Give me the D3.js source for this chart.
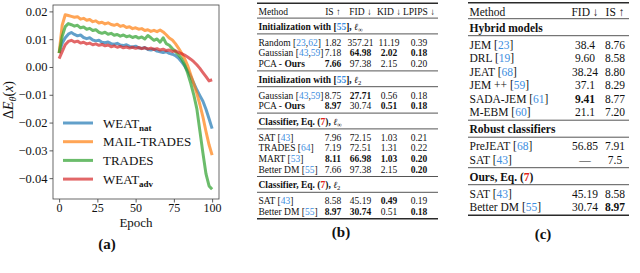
<!DOCTYPE html>
<html>
<head>
<meta charset="utf-8">
<script src="https://cdn.jsdelivr.net/npm/d3@7"></script>
<style>
  body { margin: 0; background: #fff; }
  svg { display: block; }
</style>
</head>
<body>
<div id="fig"></div>
<script>
// ---- panel (a): energy difference per epoch (read every 2nd epoch) ----
const epochs = d3.range(0, 101, 2);
const weatNat = [0.0050, 0.0085, 0.0105, 0.0118, 0.0124, 0.0117, 0.0112, 0.0115, 0.0106, 0.0102,
  0.0105, 0.0097, 0.0094, 0.0096, 0.0089, 0.0087, 0.0090, 0.0084, 0.0082, 0.0085,
  0.0079, 0.0077, 0.0080, 0.0074, 0.0072, 0.0075, 0.0069, 0.0067, 0.0070, 0.0063,
  0.0061, 0.0064, 0.0057, 0.0055, 0.0052, 0.0055, 0.0049, 0.0046, 0.0041, 0.0032,
  0.0019, 0.0004, -0.0013, -0.0034, -0.0058, -0.0082, -0.0103, -0.0123, -0.0152, -0.0186,
  -0.0222];
const mailTrades = [0.0050, 0.0150, 0.0188, 0.0185, 0.0182, 0.0179, 0.0181, 0.0172, 0.0175, 0.0168,
  0.0171, 0.0163, 0.0166, 0.0158, 0.0161, 0.0155, 0.0159, 0.0153, 0.0150, 0.0154,
  0.0146, 0.0149, 0.0142, 0.0145, 0.0138, 0.0141, 0.0136, 0.0138, 0.0131, 0.0134,
  0.0128, 0.0132, 0.0127, 0.0133, 0.0126, 0.0116, 0.0104, 0.0097, 0.0084, 0.0068,
  0.0050, 0.0030, 0.0005, -0.0028, -0.0060, -0.0095, -0.0135, -0.0180, -0.0232, -0.0280,
  -0.0317];
const trades = [0.0050, 0.0110, 0.0145, 0.0156, 0.0152, 0.0147, 0.0150, 0.0141, 0.0144, 0.0136,
  0.0139, 0.0131, 0.0134, 0.0125, 0.0121, 0.0125, 0.0118, 0.0121, 0.0114, 0.0117,
  0.0111, 0.0115, 0.0109, 0.0112, 0.0106, 0.0110, 0.0104, 0.0108, 0.0101, 0.0113,
  0.0105, 0.0096, 0.0101, 0.0089, 0.0105, 0.0084, 0.0078, 0.0066, 0.0056, 0.0044,
  0.0030, 0.0008, -0.0022, -0.0058, -0.0100, -0.0150, -0.0230, -0.0310, -0.0385, -0.0428,
  -0.0440];
const weatAdv = [0.0030, 0.0055, 0.0080, 0.0092, 0.0096, 0.0090, 0.0093, 0.0086, 0.0089, 0.0083,
  0.0086, 0.0080, 0.0083, 0.0078, 0.0081, 0.0076, 0.0079, 0.0073, 0.0076, 0.0071,
  0.0074, 0.0069, 0.0072, 0.0068, 0.0071, 0.0067, 0.0070, 0.0066, 0.0069, 0.0065,
  0.0068, 0.0063, 0.0066, 0.0061, 0.0064, 0.0059, 0.0061, 0.0056, 0.0058, 0.0052,
  0.0048, 0.0043, 0.0036, 0.0028, 0.0019, 0.0008, -0.0005, -0.0020, -0.0035, -0.0050,
  -0.0046];
const seriesNames = [["WEAT", "nat"], ["MAIL-TRADES", ""], ["TRADES", ""], ["WEAT", "adv"]];
const seriesColors = ["#1f77b4", "#ff7f0e", "#2ca02c", "#d62728"];
const xTicks = [0, 25, 50, 75, 100];
const yTicks = [-0.04, -0.03, -0.02, -0.01, 0, 0.01, 0.02];

// ---- panel (b) ----
const bHeader = ["Method", "IS ↑", "FID ↓", "KID ↓", "LPIPS ↓"];
const bGroups = ["Initialization with [55], ℓ∞", "Initialization with [55], ℓ2",
  "Classifier, Eq. (7), ℓ∞", "Classifier, Eq. (7), ℓ2"];
const bGroupSize = [3, 2, 4, 2];
const bMethods = ["Random [23,62]", "Gaussian [43,59]", "PCA - Ours", "Gaussian [43,59]", "PCA - Ours",
  "SAT [43]", "TRADES [64]", "MART [53]", "Better DM [55]", "SAT [43]", "Better DM [55]"];
const bIS = ["1.82", "7.18", "7.66", "8.75", "8.97", "7.96", "7.19", "8.11", "7.66", "8.58", "8.97"];
const bFID = ["357.21", "64.98", "97.38", "27.71", "30.74", "72.15", "72.51", "66.98", "97.38", "45.19", "30.74"];
const bKID = ["11.19", "2.02", "2.15", "0.56", "0.51", "1.03", "1.31", "1.03", "2.15", "0.49", "0.51"];
const bLPIPS = ["0.39", "0.18", "0.20", "0.18", "0.18", "0.21", "0.22", "0.20", "0.20", "0.19", "0.18"];
// column indexes printed in bold (best results)
const bBest = [[], [1, 2, 3], [0], [1], [0, 2, 3], [], [], [0, 1, 2, 3], [3], [2], [0, 1, 3]];

// ---- panel (c) ----
const cHeader = ["Method", "FID ↓", "IS ↑"];
const cGroups = ["Hybrid models", "Robust classifiers", "Ours, Eq. (7)"];
const cGroupSize = [6, 2, 2];
const cMethods = ["JEM [23]", "DRL [19]", "JEAT [68]", "JEM ++ [59]", "SADA-JEM [61]", "M-EBM [60]",
  "PreJEAT [68]", "SAT [43]", "SAT [43]", "Better DM [55]"];
const cFID = ["38.4", "9.60", "38.24", "37.1", "9.41", "21.1", "56.85", "—", "45.19", "30.74"];
const cIS = ["8.76", "8.58", "8.80", "8.29", "8.77", "7.20", "7.91", "7.5", "8.58", "8.97"];
const cBest = [[], [], [], [], [0], [], [], [], [], [1]];

const serif = "'Liberation Serif', 'DejaVu Serif', serif";
const citeBlue = "#3d8ee0", refRed = "#e2231a", ink = "#111";

const svg = d3.select("#fig").append("svg")
    .attr("width", 640)
    .attr("height", 273)
    .attr("font-family", serif);

// ================= (a) line chart =================
const plot = {left: 53, right: 219, top: 5, bottom: 199};
const x = d3.scaleLinear().domain([-4, 104.5]).range([plot.left, plot.right]);
const y = d3.scaleLinear().domain([-0.0475, 0.0223]).range([plot.bottom, plot.top]);

const gA = svg.append("g");

gA.append("g")
    .attr("transform", `translate(0,${plot.bottom})`)
    .call(d3.axisBottom(x).tickValues(xTicks).tickSize(3.5).tickPadding(1))
    .attr("font-family", serif).attr("font-size", 12)
    .call(g => g.select(".domain").remove())
    .call(g => g.selectAll("line").attr("stroke", "#333").attr("stroke-width", 0.8))
    .call(g => g.selectAll("text").attr("fill", ink));

gA.append("g")
    .attr("transform", `translate(${plot.left},0)`)
    .call(d3.axisLeft(y).tickValues(yTicks).tickFormat(d3.format(".2f")).tickSize(3.5).tickPadding(2))
    .attr("font-family", serif).attr("font-size", 12.5)
    .call(g => g.select(".domain").remove())
    .call(g => g.selectAll("line").attr("stroke", "#333").attr("stroke-width", 0.8))
    .call(g => g.selectAll("text").attr("fill", ink));

const allSeries = [weatNat, mailTrades, trades, weatAdv];
const line = d3.line()
    .x((d, i) => x(epochs[i]))
    .y(d => y(d));

gA.selectAll(".series")
    .data(allSeries)
    .join("path")
    .attr("class", "series")
    .attr("fill", "none")
    .attr("stroke", (d, i) => seriesColors[i])
    .attr("stroke-opacity", 0.7)
    .attr("stroke-width", 3)
    .attr("stroke-linejoin", "round")
    .attr("d", line);

// frame
gA.append("rect")
    .attr("x", plot.left).attr("y", plot.top)
    .attr("width", plot.right - plot.left).attr("height", plot.bottom - plot.top)
    .attr("fill", "none").attr("stroke", "#444").attr("stroke-width", 0.8);

// legend
const legend = gA.append("g").attr("transform", "translate(63,123)");
seriesNames.forEach((nm, i) => {
    const row = legend.append("g").attr("transform", `translate(0,${i * 18.7})`);
    row.append("line")
        .attr("x1", 0).attr("x2", 30)
        .attr("stroke", seriesColors[i]).attr("stroke-opacity", 0.7).attr("stroke-width", 3);
    const t = row.append("text").attr("x", 40).attr("dy", "0.35em")
        .attr("font-size", 13).attr("fill", ink).text(nm[0]);
    if (nm[1]) {
        t.append("tspan").attr("font-size", 9).attr("font-weight", "bold").attr("dy", 3).text(nm[1]);
    }
});

// axis titles
const yl = gA.append("text")
    .attr("transform", "translate(13,100) rotate(-90)")
    .attr("text-anchor", "middle")
    .attr("font-size", 14).attr("fill", ink);
yl.append("tspan").text("Δ");
yl.append("tspan").attr("font-style", "italic").text("E");
yl.append("tspan").attr("font-style", "italic").attr("font-size", 10).attr("dy", 3).text("θ");
yl.append("tspan").attr("dy", -3).text("(");
yl.append("tspan").attr("font-style", "italic").text("x");
yl.append("tspan").text(")");

gA.append("text")
    .attr("x", (plot.left + plot.right) / 2).attr("y", 226.5)
    .attr("text-anchor", "middle").attr("font-size", 13).attr("fill", ink)
    .text("Epoch");

// ================= tables =================
// write a table cell, colouring citation numbers and equation refs like the LaTeX source
function richText(t, str) {
    const parts = str.split(/(\[[\d,]+\]|\(7\)|Ours|ℓ.)/);
    parts.forEach(p => {
        if (!p) return;
        if (p[0] === "[") {
            t.append("tspan").text("[");
            p.slice(1, -1).split(",").forEach((n, k) => {
                if (k > 0) t.append("tspan").text(",");
                t.append("tspan").attr("fill", citeBlue).text(n);
            });
            t.append("tspan").text("]");
        } else if (p === "(7)") {
            t.append("tspan").text("(");
            t.append("tspan").attr("fill", refRed).text("7");
            t.append("tspan").text(")");
        } else if (p === "Ours") {
            t.append("tspan").attr("font-weight", "bold").text(p);
        } else if (p[0] === "ℓ") {
            t.append("tspan").attr("font-style", "italic").attr("font-weight", "normal").text("ℓ");
            t.append("tspan").attr("font-size", "0.7em").attr("font-weight", "normal").attr("dy", "0.3em").text(p[1]);
        } else {
            t.append("tspan").text(p);
        }
    });
}

function drawTable(o) {
    const g = svg.append("g").attr("font-size", o.font).attr("fill", ink);
    const rule = (yy, w) => g.append("line")
        .attr("x1", o.left).attr("x2", o.right).attr("y1", yy).attr("y2", yy)
        .attr("stroke", "#2a2a2a").attr("stroke-width", w);
    const cells = (yy, vals, best) => {
        vals.forEach((v, k) => {
            g.append("text")
                .attr("x", o.cols[k]).attr("y", yy).attr("dy", "0.35em")
                .attr("text-anchor", "middle")
                .attr("font-weight", best && best.includes(k) ? "bold" : "normal")
                .text(v);
        });
    };
    let yy = o.top;
    rule(yy, 1.5);
    yy += o.below;
    g.append("text").attr("x", o.left + 1.5).attr("y", yy).attr("dy", "0.35em").text(o.header[0]);
    cells(yy, o.header.slice(1), null);
    yy += o.headAbove;
    rule(yy, 0.8);
    let r = 0;
    o.groups.forEach((title, gi) => {
        yy += o.below;
        const t = g.append("text").attr("x", o.left + 1.5).attr("y", yy).attr("dy", "0.35em")
            .attr("font-weight", "bold");
        richText(t, title);
        yy += o.above;
        rule(yy, 0.8);
        for (let k = 0; k < o.sizes[gi]; k++, r++) {
            yy += k === 0 ? o.below : o.rowH;
            const m = g.append("text").attr("x", o.left + 1.5).attr("y", yy).attr("dy", "0.35em");
            richText(m, o.methods[r]);
            cells(yy, o.columns.map(c => c[r]), o.best[r]);
        }
        yy += o.above;
        rule(yy, gi === o.groups.length - 1 ? 1.5 : 0.8);
    });
}

drawTable({
    left: 257, right: 438, cols: [333, 360.5, 389, 419], font: 9.5,
    top: 3.3, below: 8.6, above: 7.2, headAbove: 6.2, rowH: 10.6,
    header: bHeader, groups: bGroups, sizes: bGroupSize, methods: bMethods,
    columns: [bIS, bFID, bKID, bLPIPS], best: bBest
});

drawTable({
    left: 468, right: 629, cols: [585, 615], font: 11.5,
    top: 2.7, below: 9.2, above: 7.8, headAbove: 6.8, rowH: 13.5,
    header: cHeader, groups: cGroups, sizes: cGroupSize, methods: cMethods,
    columns: [cFID, cIS], best: cBest
});

// sub-figure captions
[["(a)", 107, 244], ["(b)", 341, 232], ["(c)", 543, 233.5]].forEach(c => {
    svg.append("text")
        .attr("x", c[1]).attr("y", c[2]).attr("dy", "0.35em")
        .attr("text-anchor", "middle").attr("font-size", 15).attr("font-weight", "bold")
        .attr("fill", ink).text(c[0]);
});
</script>
</body>
</html>
